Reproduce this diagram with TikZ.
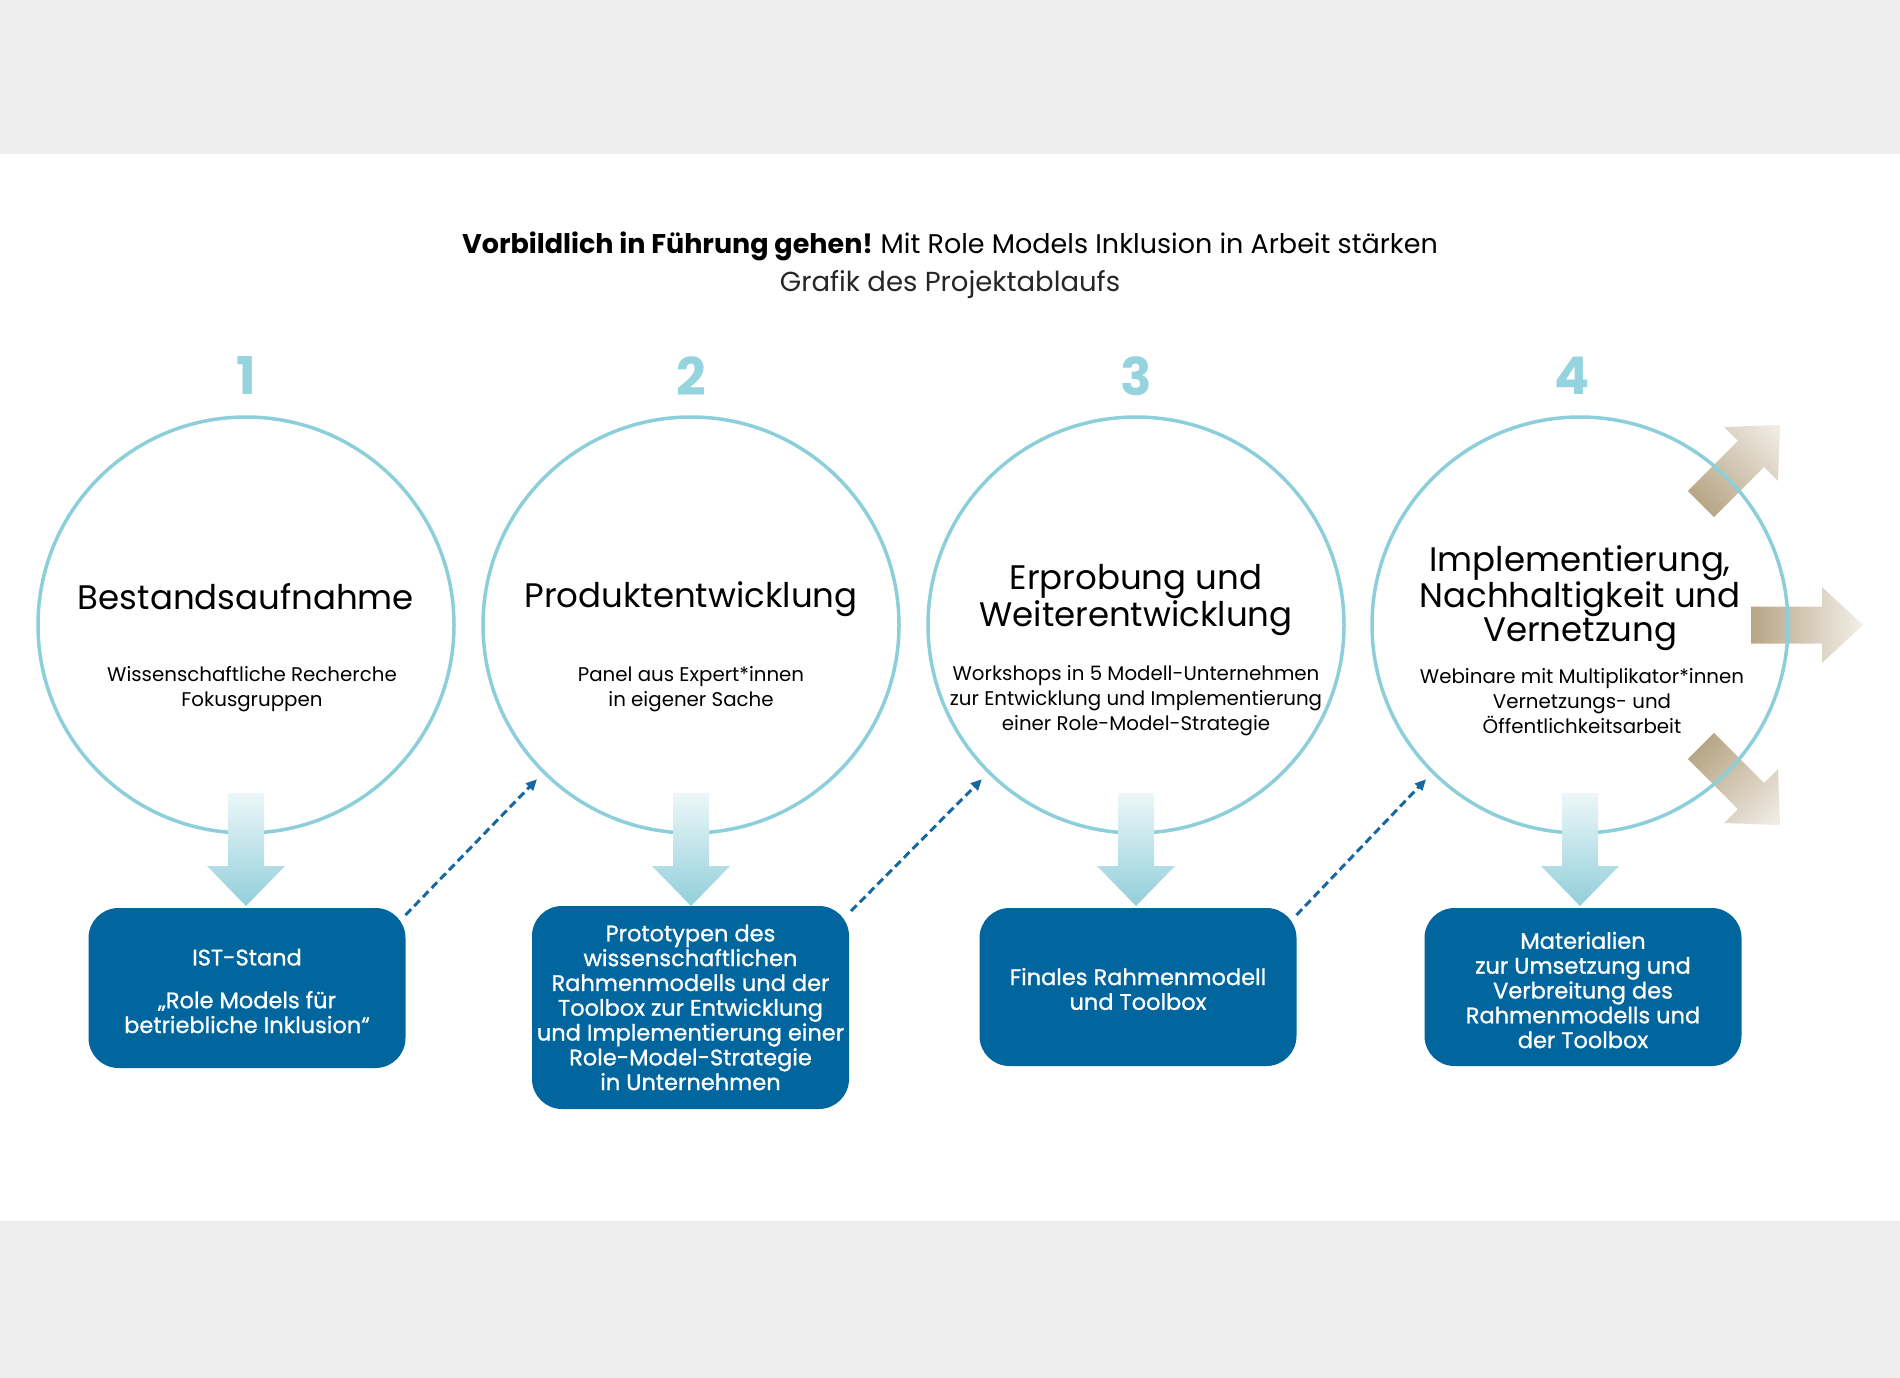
\documentclass[tikz,border=0pt]{standalone}
\usepackage{fontspec}
\setmainfont{Poppins}
\newfontfamily\boxfont[FakeBold=1]{Poppins}
\usetikzlibrary{arrows.meta,calc}
\definecolor{bandgray}{HTML}{EDEDED}
\definecolor{ring}{HTML}{8CCFDB}
\definecolor{numc}{HTML}{95D3DF}
\definecolor{boxblue}{HTML}{00669D}
\definecolor{dashblue}{HTML}{1767A3}
\definecolor{tanD}{HTML}{B7A686}
\definecolor{tanL}{HTML}{F3EFE9}
\definecolor{aquaL}{HTML}{ECF7F9}
\definecolor{aquaD}{HTML}{92CFDA}
\begin{document}
\begin{tikzpicture}[x=1pt,y=-1pt,
  ringnode/.style={circle,draw=ring,line width=3.5pt,minimum size=416pt,inner sep=0pt,outer sep=0pt},
  numnode/.style={text=numc,font=\fontsize{52}{54}\selectfont\bfseries,inner sep=0pt},
  headnode/.style={align=center,inner sep=0pt,font=\fontsize{34}{34}\selectfont},
  subnode/.style={align=center,inner sep=0pt,font=\fontsize{19.8}{25}\selectfont},
  boxnode/.style={rectangle,rounded corners=30pt,fill=boxblue,text=white,align=center,
     minimum width=317pt,inner sep=0pt,outer sep=0pt,font=\boxfont\fontsize{22.5}{24.8}\selectfont},
  dashconn/.style={draw=dashblue,line width=3pt,dash pattern=on 8pt off 4.5pt,
     -{Triangle[length=11pt,width=10pt]},shorten >=10pt},
  downshade/.style={top color=aquaL,bottom color=aquaD},
  brownshade/.style={left color=tanD,right color=tanL}
]
\useasboundingbox (0,0) rectangle (1900,1378);
\fill[bandgray] (0,0) rectangle (1900,154);
\fill[bandgray] (0,1221) rectangle (1900,1378);

% title
\node[inner sep=0pt,font=\fontsize{27}{30}\selectfont] (title) at (950,246)
  {{\bfseries Vorbildlich in Führung gehen!}\hspace{-2pt} Mit Role Models Inklusion in Arbeit stärken};
\node[inner sep=0pt,font=\fontsize{27.5}{30}\selectfont,text=black!85] (subtitle) at (950,285)
  {Grafik des Projektablaufs};

% brown outward arrows (behind ring 4)
\coordinate (c4c) at (1580,625);
\foreach \ang in {45,0,-45}{
  \begin{scope}[transform canvas={rotate around={\ang:(c4c)}}]
    \shade[brownshade] ($(c4c)+(171,-18.5)$) -- ++(71,0) -- ++(0,-19.5) -- ++(41,38)
      -- ++(-41,38) -- ++(0,-19.5) -- ++(-71,0) -- cycle;
  \end{scope}
}

% rings
\node[ringnode] (c1) at (246,625) {};
\node[ringnode] (c2) at (691,625) {};
\node[ringnode] (c3) at (1136,625) {};
\node[ringnode] (c4) at (1580,625) {};

% numbers
\node[numnode] (n1) at (246,376) {1};
\node[numnode] (n2) at (691,376) {2};
\node[numnode] (n3) at (1136,376) {3};
\node[numnode] (n4) at (1572,376) {4};

% boxes
\node[boxnode,minimum height=160pt] (b1) at (247,988)
  {}; 
\node[boxnode,minimum height=203pt] (b2) at (690.5,1007.5)
  {Prototypen des\\wissenschaftlichen\\Rahmenmodells und der\\Toolbox zur Entwicklung\\und Implementierung einer\\Role-Model-Strategie\\in Unternehmen};
\node[boxnode,minimum height=158pt] (b3) at (1138,987)
  {};
\node[boxnode,minimum height=158pt] (b4) at (1583,987)
  {};
\node[boxnode,fill=none,minimum width=0pt] (t1) at (247,991)
  {IST-Stand\\[18pt]„Role Models für\\betriebliche Inklusion“};
\node[boxnode,fill=none,minimum width=0pt] (t3) at (1138,989)
  {Finales Rahmenmodell\\und Toolbox};
\node[boxnode,fill=none,minimum width=0pt] (t4) at (1583,990)
  {Materialien\\zur Umsetzung und\\Verbreitung des\\Rahmenmodells und\\der Toolbox};

% down arrows (over rings)
\foreach \i in {1,2,3,4}{
  \shade[downshade] ($(c\i.center)+(-18,168)$) -- ++(36,0) -- ++(0,73) -- ++(21,0)
    -- ($(c\i.center)+(0,281)$) -- ($(c\i.center)+(-39,241)$) -- ++(21,0) -- cycle;
}

% dashed connectors
\coordinate (d1) at ($(b1.north east)+(0,7)$);
\coordinate (d2) at ($(b2.north east)+(2,5)$);
\coordinate (d3) at ($(b3.north east)+(0,7)$);
\draw[dashconn] (d1) -- (c2.225);
\draw[dashconn] (d2) -- (c3.225);
\draw[dashconn] (d3) -- (c4.225);

% ring texts
\node[headnode] (h1) at (246,597) {Bestandsaufnahme};
\node[subnode] (s1) at (252,689) {Wissenschaftliche Recherche\\Fokusgruppen};
\node[headnode] (h2) at (691,599) {Produktentwicklung};
\node[subnode] (s2) at (691,689) {Panel aus Expert*innen\\in eigener Sache};
\node[headnode] (h3) at (1136,600) {Erprobung und\\Weiterentwicklung};
\node[subnode] (s3) at (1136,701) {Workshops in 5 Modell-Unternehmen\\zur Entwicklung und Implementierung\\einer Role-Model-Strategie};
\node[headnode] (h4) at (1580,598) {Implementierung,\\Nachhaltigkeit und\\Vernetzung};
\node[subnode] (s4) at (1582,701) {Webinare mit Multiplikator*innen\\Vernetzungs- und\\Öffentlichkeitsarbeit};
\end{tikzpicture}
\end{document}
